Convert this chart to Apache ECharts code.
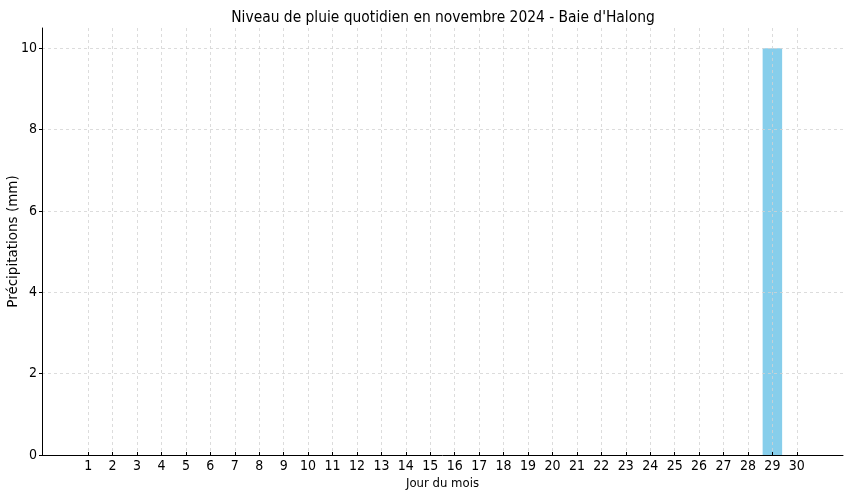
<!DOCTYPE html>
<html>
<head>
<meta charset="utf-8">
<script src="https://cdn.jsdelivr.net/npm/echarts@6/dist/echarts.min.js"></script>
<style>
  html, body { margin: 0; padding: 0; background: #fff; }
  #chart { width: 850px; height: 500px; }
</style>
</head>
<body>
<div id="chart"></div>
<script>
var days = [1,2,3,4,5,6,7,8,9,10,11,12,13,14,15,16,17,18,19,20,21,22,23,24,25,26,27,28,29,30];
var rain = [0,0,0,0,0,0,0,0,0,0,0,0,0,0,0,0,0,0,0,0,0,0,0,0,0,0,0,0,10,0];
var yTicks = [0, 2, 4, 6, 8, 10];

var cond = '"DejaVu Sans Condensed", "DejaVu Sans", sans-serif';
var gridLine = { show: true, lineStyle: { color: '#d4d4d4', type: [3, 3], width: 0.8 } };

var myChart = echarts.init(document.getElementById('chart'));

var option = {
    animation: false,
    title: {
        text: "Niveau de pluie quotidien en novembre 2024 - Baie d'Halong",
        left: 438, top: 5, textAlign: 'center',
        textStyle: { fontFamily: cond, fontSize: 15.4, fontWeight: 'normal', color: '#000' }
    },
    grid: { left: 42, right: 7, top: 28, bottom: 45, outerBoundsMode: 'none', containLabel: false },
    xAxis: {
        type: 'value',
        min: -0.89, max: 31.89,
        z: 3,
        name: 'Jour du mois',
        nameLocation: 'middle', nameGap: 22, nameMoveOverlap: false,
        nameTextStyle: { fontFamily: cond, fontSize: 13, color: '#000' },
        axisLine: { onZero: false, lineStyle: { color: '#000', width: 1 } },
        axisTick: { length: 3, inside: true, customValues: days, lineStyle: { color: '#000' } },
        axisLabel: { customValues: days, fontFamily: cond, fontSize: 14, color: '#000', margin: 4 },
        splitLine: gridLine
    },
    yAxis: {
        type: 'value',
        min: 0, max: 10.5,
        z: 3,
        name: 'Précipitations (mm)',
        nameLocation: 'middle', nameGap: 22, nameMoveOverlap: false,
        nameTextStyle: { fontFamily: '"DejaVu Sans", sans-serif', fontSize: 13.5, color: '#000' },
        axisLine: { show: true, onZero: false, lineStyle: { color: '#000', width: 1 } },
        axisTick: { show: true, length: 3, customValues: yTicks, lineStyle: { color: '#000' } },
        axisLabel: { customValues: yTicks, fontFamily: cond, fontSize: 14, color: '#000', margin: 5 },
        splitLine: gridLine
    },
    series: [{
        type: 'bar',
        barWidth: 19.5,
        itemStyle: { color: '#87CEEB' },
        data: days.map(function (d, i) { return [d, rain[i]]; })
    }]
};

myChart.setOption(option);
</script>
</body>
</html>
